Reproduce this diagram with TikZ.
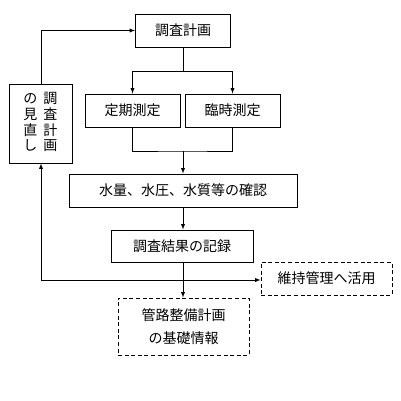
\documentclass[tikz,border=0pt]{standalone}
\usepackage{fontspec}
\setmainfont{Noto Sans CJK JP}
\usepackage{tikz}
\usetikzlibrary{arrows}

\tikzset{
  box/.style={draw, line width=0.9pt, inner sep=0pt, align=center, font=\fontsize{14}{14.5}\selectfont},
  dbox/.style={box, dashed, dash pattern=on 4pt off 2.6pt},
  flow/.style={line width=0.9pt, -latex}
}

\begin{document}
\begin{tikzpicture}[x=1pt, y=-1pt]
  \useasboundingbox (0,0) rectangle (401,400);
  \node [box, minimum width=95pt, minimum height=33pt] (plan) at (183,30.5) {調査計画};
  \node [box, minimum width=95pt, minimum height=33pt] (teiki) at (132.5,110.5) {定期測定};
  \node [box, minimum width=95pt, minimum height=33pt] (rinji) at (232.5,110.5) {臨時測定};
  \node [box, minimum width=228pt, minimum height=33pt] (kakunin) at (183,190.5) {水量、水圧、水質等の確認};
  \node [box, minimum width=142pt, minimum height=32pt] (kiroku) at (182,246) {調査結果の記録};
  \node [dbox, minimum width=131pt, minimum height=33pt] (iji) at (326.5,278.5) {維持管理へ活用};
  \node [dbox, minimum width=131pt, minimum height=57pt] (kiso) at (183.5,326.5)
    {管路整備計画\\[9pt] の基礎情報};
  \node [box, minimum width=63pt, minimum height=79pt] (minaoshi) at (40.5,123.5)
    {\begin{tabular}{@{}c@{\hspace{6pt}}c@{}}の & 調\\ 見 & 査\\ 直 & 計\\ し & 画\end{tabular}};
  \coordinate (split) at (183,71);
  \coordinate (join) at (183,151);
  \coordinate (back) at (41,280);
  \draw [line width=0.9pt] (plan.south) -- (split);
  \draw [flow] (split) -| (teiki.north);
  \draw [flow] (split) -| (rinji.north);
  \draw [line width=0.9pt] (teiki.south) |- (join) -| (rinji.south);
  \draw [flow] (join) -- (kakunin.north);
  \draw [flow] (kakunin.south) -- (kiroku.north -| kakunin.south);
  \draw [flow] (kiroku.south -| kakunin.south) -- (kiso.north -| kakunin.south);
  \draw [flow] (back) -- (back -| iji.west);
  \draw [flow] (back) -- (minaoshi.south -| back);
  \draw [flow] (minaoshi.north -| back) |- (plan.west);
\end{tikzpicture}
\end{document}
